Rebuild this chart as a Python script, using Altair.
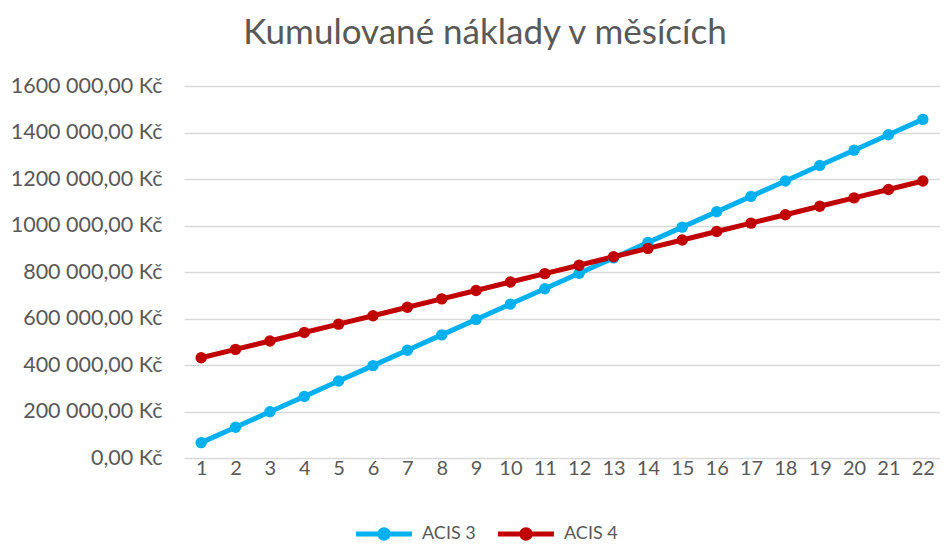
import altair as alt
import pandas as pd

months = list(range(1, 23))
acis3 = [66200, 132400, 198600, 264800, 331000, 397200, 463400, 529600, 595800, 662000, 728200,
         794400, 860600, 926800, 993000, 1059200, 1125400, 1191600, 1257800, 1324000, 1390200, 1456400]
acis4 = [431000, 467200, 503400, 539600, 575800, 612000, 648200, 684400, 720600, 756800, 793000,
         829200, 865400, 901600, 937800, 974000, 1010200, 1046400, 1082600, 1118800, 1155000, 1191200]
series_names = ["ACIS 3", "ACIS 4"]
colors = ["#00B0F0", "#C00000"]
y_ticks = [0, 200000, 400000, 600000, 800000, 1000000, 1200000, 1400000, 1600000]

rows = []
for m, a, b in zip(months, acis3, acis4):
    rows.append({"mesic": m, "serie": series_names[0], "naklady": a})
    rows.append({"mesic": m, "serie": series_names[1], "naklady": b})
df = pd.DataFrame(rows)

FONT = "Lato"
GREY = "#595959"

x = alt.X("mesic:O", title=None,
          scale=alt.Scale(type="point", padding=0.5),
          axis=alt.Axis(labelAngle=0, labelFontSize=20, labelColor=GREY, labelFont=FONT,
                        ticks=False, domain=False, labelPadding=0, grid=False))
y = alt.Y("naklady:Q", title=None,
          scale=alt.Scale(domain=[0, 1600000], nice=False),
          axis=alt.Axis(values=y_ticks, labelFontSize=21.5, labelColor=GREY, labelFont=FONT,
                        ticks=False, domain=False, labelPadding=22,
                        gridColor="#D9D9D9", gridWidth=1.5,
                        labelExpr="datum.value == 0 ? '0,00 Kč' : format(datum.value / 1000, 'd') + ' 000,00 Kč'"))
color = alt.Color("serie:N", title=None,
                  scale=alt.Scale(domain=series_names, range=colors),
                  legend=alt.Legend(orient="none", direction="horizontal", legendX=172, legendY=420,
                                    labelFontSize=18, labelColor=GREY, labelFont=FONT,
                                    symbolType="M-1,-0.09H-0.2V0.09H-1Z M0.2,-0.09H1V0.09H0.2Z M-0.24,0A0.24,0.24 0 1,1 0.24,0A0.24,0.24 0 1,1 -0.24,0Z",
                                    symbolSize=3136, symbolStrokeWidth=0, columnPadding=22, labelOffset=10))

base = alt.Chart(df)
lines = base.mark_line(strokeWidth=5).encode(x=x, y=y, color=color)
points = base.mark_circle(size=130, opacity=1).encode(x=x, y=y, color=color)

chart = alt.layer(lines, points).properties(
    width=756, height=372,
    title=alt.Title("Kumulované náklady v měsících", fontSize=35, font=FONT, color=GREY,
                    fontWeight="normal", anchor="middle", offset=24, dx=-77),
    padding={"left": 176, "top": 78, "right": 0, "bottom": 86},
    autosize=alt.AutoSizeParams(type="none"),
).configure_view(stroke=None)

chart.save("out.html", embed_options={"renderer": "svg", "actions": False})
